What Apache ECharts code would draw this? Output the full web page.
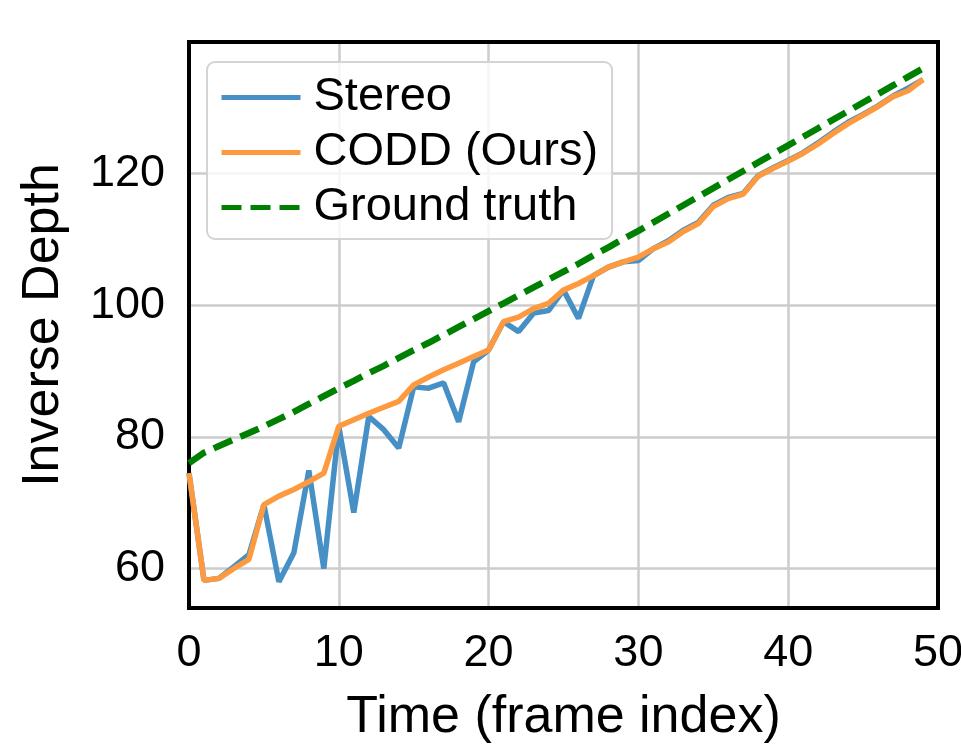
<!DOCTYPE html>
<html>
<head>
<meta charset="utf-8">
<script src="https://cdn.jsdelivr.net/npm/echarts@6/dist/echarts.min.js"></script>
<style>
html,body{margin:0;padding:0;background:#fff;}
#chart{width:961px;height:747px;}
</style>
</head>
<body>
<div id="chart"></div>
<script>
const frames = [0,1,2,3,4,5,6,7,8,9,10,11,12,13,14,15,16,17,18,19,20,21,22,23,24,25,26,27,28,29,30,31,32,33,34,35,36,37,38,39,40,41,42,43,44,45,46,47,48,49];
const stereo = [74.5,58.2,58.5,60.3,62.1,69.7,58.0,62.4,74.9,60.0,81.6,68.5,83.1,81.1,78.3,87.6,87.4,88.2,82.3,91.4,93.2,97.5,96.0,98.8,99.2,102.3,98.0,104.5,105.8,106.6,106.8,108.6,109.8,111.4,112.6,115.2,116.4,117.0,119.7,120.9,122.0,123.2,124.7,126.3,127.8,129.0,130.3,131.8,133.0,134.3];
const codd = [74.5,58.2,58.5,60.0,61.4,69.7,71.0,72.0,73.2,74.5,81.6,82.6,83.6,84.5,85.4,87.9,89.1,90.2,91.2,92.2,93.2,97.5,98.2,99.5,100.3,102.3,103.3,104.5,105.8,106.6,107.3,108.6,109.6,111.2,112.4,115.0,116.2,116.9,119.6,120.8,121.9,123.1,124.5,126.1,127.6,128.9,130.2,131.7,132.6,134.3];
const groundTruth = [76.0,77.6,78.6,79.6,80.6,81.6,82.7,83.8,85.0,86.2,87.4,88.5,89.7,90.8,92.0,93.2,94.3,95.5,96.7,97.9,99.1,100.3,101.5,102.7,103.9,105.1,106.3,107.6,108.8,110.1,111.3,112.6,113.9,115.2,116.5,117.8,119.1,120.4,121.7,123.0,124.3,125.6,126.9,128.2,129.5,130.8,132.1,133.4,134.7,136.0];
const yTicks = [60, 80, 100, 120];
const seriesNames = ['Stereo', 'CODD (Ours)', 'Ground truth'];

const pair = arr => frames.map((f, i) => [f, arr[i]]);
const FONT = 'Liberation Sans, Arial, sans-serif';
const frameLine = {show: true, onZero: false, lineStyle: {color: '#000', width: 4, cap: 'square'}};

const chart = echarts.init(document.getElementById('chart'), null, {renderer: 'canvas'});
chart.setOption({
  animation: false,
  backgroundColor: '#fff',
  grid: {left: 189, right: 23, top: 42, bottom: 139, outerBoundsMode: 'none', containLabel: false},
  legend: {
    orient: 'vertical', left: 207, top: 62,
    data: seriesNames,
    itemWidth: 79, itemHeight: 14, itemGap: 8,
    padding: [12, 14, 8, 12],
    backgroundColor: 'rgba(255,255,255,0.8)',
    borderColor: '#d4d4d4', borderWidth: 2, borderRadius: 8,
    itemStyle: {opacity: 0},
    lineStyle: {width: 5},
    textStyle: {fontFamily: FONT, fontSize: 47, color: '#000', padding: [0, 0, 0, 8]}
  },
  xAxis: [{
    type: 'value', min: 0, max: 50, interval: 10,
    name: 'Time (frame index)', nameLocation: 'middle', nameGap: 84,
    nameTextStyle: {fontFamily: FONT, fontSize: 52, color: '#000'},
    axisLine: frameLine, axisTick: {show: false},
    axisLabel: {fontFamily: FONT, fontSize: 45, color: '#000', margin: 23},
    splitLine: {show: true, lineStyle: {color: '#cccccc', width: 2.5}}
  }, {
    type: 'value', position: 'top', min: 0, max: 50, interval: 10,
    axisLine: frameLine, axisTick: {show: false}, axisLabel: {show: false}, splitLine: {show: false}
  }],
  yAxis: [{
    type: 'value', min: 54, max: 140,
    name: 'Inverse Depth', nameLocation: 'middle', nameGap: 119,
    nameTextStyle: {fontFamily: FONT, fontSize: 52, color: '#000'},
    axisLine: frameLine,
    axisTick: {show: false, customValues: yTicks},
    axisLabel: {fontFamily: FONT, fontSize: 45, color: '#000', margin: 24, customValues: yTicks},
    splitLine: {show: true, lineStyle: {color: '#cccccc', width: 2.5}}
  }, {
    type: 'value', position: 'right', min: 54, max: 140,
    axisLine: frameLine, axisTick: {show: false}, axisLabel: {show: false}, splitLine: {show: false}
  }],
  series: [
    {name: seriesNames[0], type: 'line', data: pair(stereo), showSymbol: false, symbol: 'none', z: 2,
     lineStyle: {color: '#4690c6', width: 5.5}, itemStyle: {color: '#4690c6'}},
    {name: seriesNames[1], type: 'line', data: pair(codd), showSymbol: false, symbol: 'none', z: 3,
     lineStyle: {color: '#fd9a40', width: 5.5}, itemStyle: {color: '#fd9a40'}},
    {name: seriesNames[2], type: 'line', data: pair(groundTruth), showSymbol: false, symbol: 'none', z: 4,
     lineStyle: {color: '#008000', width: 6.5, type: [20, 9]}, itemStyle: {color: '#008000'}}
  ]
});
</script>
</body>
</html>
